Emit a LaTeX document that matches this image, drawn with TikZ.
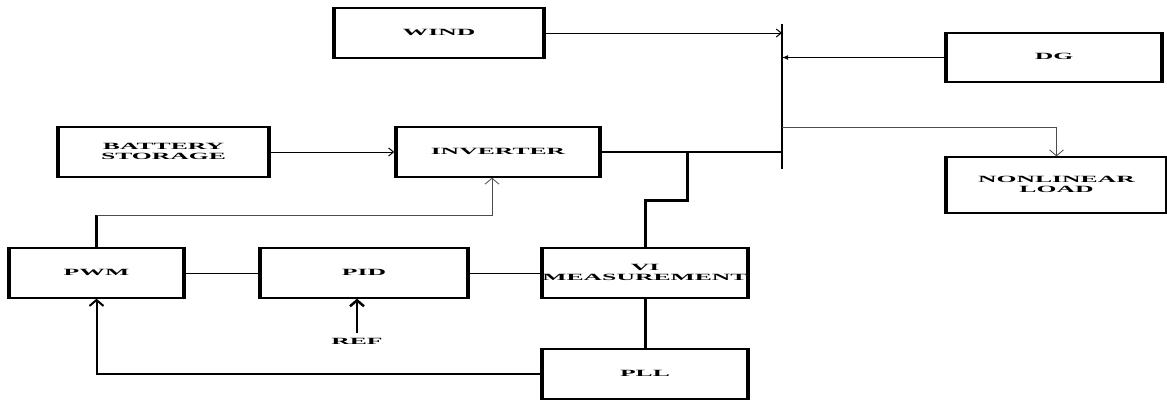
\documentclass[tikz,border=0pt]{standalone}
\usepackage{fontspec}
\setmainfont{Liberation Serif}
\usetikzlibrary{arrows.meta}

\newcommand{\boxtext}[1]{\scalebox{2.7}[1]{\bfseries\begin{tabular}{@{}c@{}}#1\end{tabular}}}

\begin{document}
\begin{tikzpicture}[x = 1pt, y = -1pt, > = {Straight Barb[length = 5pt, width = 8pt]}, font = \fontsize{9.5}{10}\selectfont,
	blk/.style = {draw, line width = 1.3pt, inner sep = 0pt, minimum height = 50},
	wide/.style = {-{Straight Barb[length = 6pt, width = 14pt]}}]

	\useasboundingbox (0, 0) rectangle (1167, 400);

	% Blocks
	
	\node [blk, minimum width = 208] (wind) at (439, 33) {\boxtext{WIND}};
	\node [blk, minimum width = 214, minimum height = 49] (dg) at (1054, 57.5) {\boxtext{DG}};
	\node [blk, minimum width = 219, minimum height = 56] (load) at (1056.5, 185) {\boxtext{NONLINEAR\\LOAD}};
	\node [blk, minimum width = 209] (battery) at (163.5, 152) {\boxtext{BATTERY\\STORAGE}};
	\node [blk, minimum width = 202] (inverter) at (498, 152) {\boxtext{INVERTER}};
	\node [blk, minimum width = 173] (pwm) at (96.5, 273) {\boxtext{PWM}};
	\node [blk, minimum width = 206] (pid) at (364, 273) {\boxtext{PID}};
	\node [blk, minimum width = 204] (vi) at (645, 273) {\boxtext{VI\\MEASUREMENT}};
	\node [blk, minimum width = 204] (pll) at (645, 374) {\boxtext{PLL}};
	\node (ref) at (357, 342) {\boxtext{REF}};
	
	\foreach \b in {wind, dg, load, battery, inverter, pwm, pid, vi, pll}
		\draw [line width = 4pt] (\b.north west) -- (\b.south west) (\b.north east) -- (\b.south east);
	
	% Bus
	
	\coordinate (bustop) at (782, 24);
	\coordinate (busbot) at (782, 169);
	\coordinate (tap) at (782, 127);
	\draw [line width = 1.5pt] (bustop) -- (busbot);
	
	% Power flow
	
	\draw [->, line width = 1pt] (wind.east) -- (wind.east -| bustop);
	\draw [-{Latex[length = 6pt, width = 5pt]}, line width = 1.2pt] (dg.west) -- (dg.west -| bustop);
	\draw [wide, line width = 0.8pt, black!70] (tap) -| (load.north);
	\draw [->, line width = 1pt] (battery.east) -- ([xshift = -2pt] inverter.west);
	\draw [line width = 1.2pt] (inverter.east) -- (inverter.east -| bustop);
	
	% Control loop
	
	\coordinate (sense) at (687, 152);
	\draw [line width = 3pt] (sense) -- ++(0, 48) -| (vi.north);
	\draw [line width = 2.5pt] (pwm.north) -- ++(0, -32) coordinate (gate);
	\draw [wide, line width = 0.8pt, black!70] (gate) -| ([xshift = -6pt] inverter.south);
	\draw [line width = 1pt] (pwm) -- (pid);
	\draw [line width = 1pt] (pid) -- (vi);
	\draw [wide, line width = 2.5pt] (ref.north) -- (ref.north |- pid.south);
	\draw [line width = 3pt] (vi) -- (pll);
	\draw [wide, line width = 2pt] (pll.west) -| (pwm.south);

\end{tikzpicture}
\end{document}
